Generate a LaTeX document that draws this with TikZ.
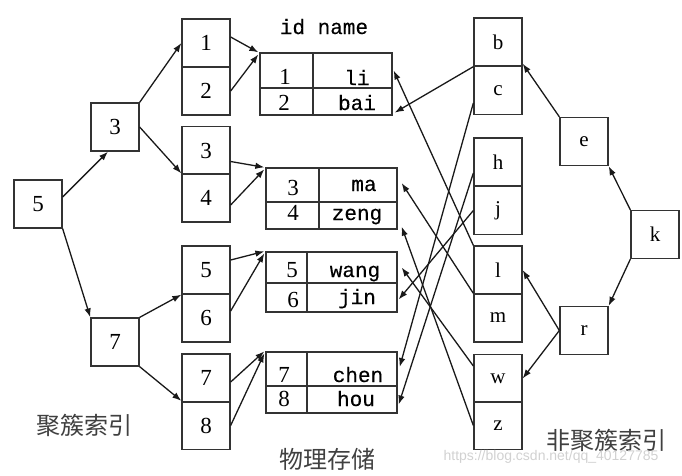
\documentclass[tikz,border=0pt]{standalone}
\usepackage{fontspec}
\setmainfont{Liberation Serif}
\newfontfamily\monofont[FakeBold=0.3]{Liberation Mono}
\newfontfamily\cjkfont{Noto Sans CJK SC}
\newfontfamily\wmfont{Liberation Sans}
\usetikzlibrary{arrows.meta}
\begin{document}
\begin{tikzpicture}[x=1pt,y=-1pt,
  box/.style={draw=black!80, line width=1.3pt, minimum width=48pt, minimum height=48pt, inner sep=0pt, font=\fontsize{23}{23}\selectfont},
  lbox/.style={box, font=\fontsize{21}{21}\selectfont},
  cell/.style={draw=black!80, line width=1.3pt, inner sep=0pt},
  dig/.style={anchor=base, inner sep=0pt, font=\fontsize{23}{23}\selectfont},
  nam/.style={anchor=base, inner sep=0pt, font=\monofont\fontsize{21}{21}\selectfont},
  cjk/.style={inner sep=0pt, text=black!75, font=\cjkfont\fontsize{24}{24}\selectfont},
  conn/.style={line width=1.3pt, draw=black!90, -{Latex[length=9pt,width=6.5pt]}}
]
\useasboundingbox (0,0) rectangle (682,475);

% left tree
\node[box] (r5) at (38,204) {5};
\node[box] (r3) at (115,127) {3};
\node[box] (r7) at (115,342) {7};
\node[box] (n1) at (206,43) {1};
\node[box] (n2) at (206,91) {2};
\node[box] (n3) at (206,150.5) {3};
\node[box] (n4) at (206,198) {4};
\node[box] (n5) at (206,270) {5};
\node[box] (n6) at (206,318) {6};
\node[box] (n7) at (206,378) {7};
\node[box] (n8) at (206,425.5) {8};

% tables
\node[nam] (hdr) at (324,34) {id name};
\node[cell, minimum width=53pt, minimum height=35pt] (t1a) at (286.5,70.5) {};
\node[cell, minimum width=79pt, minimum height=35pt] (t1an) at (352.5,70.5) {};
\node[cell, minimum width=53pt, minimum height=27pt] (t1b) at (286.5,101.5) {};
\node[cell, minimum width=79pt, minimum height=27pt] (t1bn) at (352.5,101.5) {};
\node[dig] (x1) at (285,84) {1};
\node[nam] (y1) at (357,85) {li};
\node[dig] (x2) at (284,110) {2};
\node[nam] (y2) at (357,110) {bai};

\node[cell, minimum width=53pt, minimum height=34pt] (t2a) at (292.5,185) {};
\node[cell, minimum width=78pt, minimum height=34pt] (t2an) at (358,185) {};
\node[cell, minimum width=53pt, minimum height=27pt] (t2b) at (292.5,215.5) {};
\node[cell, minimum width=78pt, minimum height=27pt] (t2bn) at (358,215.5) {};
\node[dig] (x3) at (293,195) {3};
\node[nam] (y3) at (364,191) {ma};
\node[dig] (x4) at (293,220) {4};
\node[nam] (y4) at (357,220) {zeng};

\node[cell, minimum width=41pt, minimum height=31pt] (t3a) at (286.5,267.5) {};
\node[cell, minimum width=90pt, minimum height=31pt] (t3an) at (352,267.5) {};
\node[cell, minimum width=41pt, minimum height=29pt] (t3b) at (286.5,297.5) {};
\node[cell, minimum width=90pt, minimum height=29pt] (t3bn) at (352,297.5) {};
\node[dig] (x5) at (292,277) {5};
\node[nam] (y5) at (355,277) {wang};
\node[dig] (x6) at (293,307) {6};
\node[nam] (y6) at (357,304) {jin};

\node[cell, minimum width=41pt, minimum height=34pt] (t4a) at (286.5,369) {};
\node[cell, minimum width=90pt, minimum height=34pt] (t4an) at (352,369) {};
\node[cell, minimum width=41pt, minimum height=27pt] (t4b) at (286.5,399.5) {};
\node[cell, minimum width=90pt, minimum height=27pt] (t4bn) at (352,399.5) {};
\node[dig] (x7) at (284,382) {7};
\node[dig] (x8) at (284,406) {8};
\node[nam] (y7) at (358,382) {chen};
\node[nam] (y8) at (356,406) {hou};

% right column
\node[lbox] (rb) at (498,42) {b};
\node[lbox] (rc) at (498,90.5) {c};
\node[lbox] (rh) at (498,162) {h};
\node[lbox] (rj) at (498,210.5) {j};
\node[lbox] (rl) at (498,270) {l};
\node[lbox] (rm) at (498,318) {m};
\node[lbox] (rw) at (498,378.5) {w};
\node[lbox] (rz) at (498,425.5) {z};
\node[lbox] (re) at (584,141.5) {e};
\node[lbox] (rk) at (655,234.5) {k};
\node[lbox] (rr) at (584,330.5) {r};

% labels
\node[cjk] (lab1) at (84,425) {聚簇索引};
\node[cjk] (lab2) at (327,459) {物理存储};
\node[cjk] (lab3) at (606,440) {非聚簇索引};
\node[inner sep=0pt, text=black!18, font=\wmfont\fontsize{14}{14}\selectfont] (wm) at (551,457) {https://blog.csdn.net/qq\_40127785};

% left tree arrows
\draw[conn] ([yshift=7pt]r5.east) -- ([xshift=-7pt]r3.south);
\draw[conn] (r5.south east) -- (r7.north west);
\draw[conn] (r3.north east) -- (n1.west);
\draw[conn] (r3.east) -- (n4.north west);
\draw[conn] (r7.north east) -- (n5.south west);
\draw[conn] (r7.south east) -- (n8.north west);

% left column to tables
\draw[conn] ([yshift=6pt]n1.east) -- ([xshift=-1pt]t1a.north west);
\draw[conn] (n2.east) -- ([xshift=-1pt,yshift=-2pt]t1a.north west);
\draw[conn] ([yshift=-11pt]n3.east) -- ([xshift=-1pt]t2a.north west);
\draw[conn] ([yshift=-7pt]n4.east) -- ([xshift=-1pt,yshift=-2pt]t2a.north west);
\draw[conn] ([yshift=10pt]n5.east) -- ([xshift=-1pt]t3a.north west);
\draw[conn] ([yshift=7pt]n6.east) -- ([xshift=-1pt,yshift=-2pt]t3a.north west);
\draw[conn] ([yshift=-4pt]n7.east) -- ([xshift=-1pt]t4a.north west);
\draw[conn] (n8.east) -- ([xshift=-1pt,yshift=-2pt]t4a.north west);

% right tree arrows
\draw[conn] (rk.north west) -- (re.south east);
\draw[conn] (re.north west) -- ([yshift=3pt]rb.south east);
\draw[conn] (rk.south west) -- (rr.north east);
\draw[conn] (rr.west) -- (rl.east);
\draw[conn] (rr.west) -- (rw.east);

% right column to tables
\draw[conn] (rb.south west) -- ([xshift=2pt,yshift=3pt]t1bn.south east);
\draw[conn] (rl.north west) -- ([xshift=1pt]t1an.east);
\draw[conn] ([yshift=-12.5pt]rc.west) -- ([xshift=2pt,yshift=2pt]t4an.east);
\draw[conn] ([yshift=-11pt]rh.west) -- ([xshift=1pt,yshift=-5pt]t4bn.east);
\draw[conn] (rj.west) -- ([xshift=1pt,yshift=-2pt]t3bn.east);
\draw[conn] (rm.north west) -- ([xshift=4pt,yshift=2pt]t2an.east);
\draw[conn] ([yshift=12.5pt]rw.west) -- ([xshift=4pt]t3an.east);
\draw[conn] (rz.west) -- ([xshift=4pt,yshift=3pt]t2bn.south east);
\end{tikzpicture}
\end{document}
